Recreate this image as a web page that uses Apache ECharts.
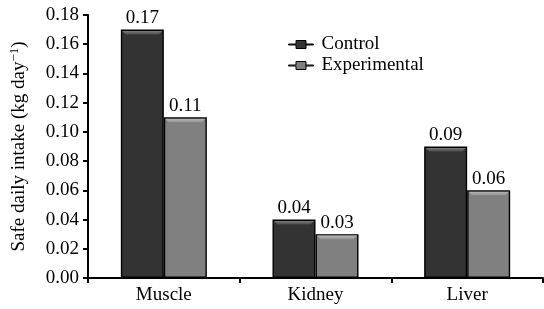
<!DOCTYPE html>
<html><head><meta charset="utf-8">
<script src="https://cdn.jsdelivr.net/npm/echarts@6/dist/echarts.min.js"></script>
<style>html,body{margin:0;padding:0;background:#fff}#c{width:544px;height:309px}</style>
</head><body><div id="c"></div>
<script>
const categories = ['Muscle', 'Kidney', 'Liver'];
const controlValues = [0.17, 0.04, 0.09];
const experimentalValues = [0.11, 0.03, 0.06];
const yTicks = [0, 0.02, 0.04, 0.06, 0.08, 0.10, 0.12, 0.14, 0.16, 0.18];

const FONT = '"Liberation Serif", "Times New Roman", serif';
const BAR_W = 43;
const chart = echarts.init(document.getElementById('c'), null, {renderer: 'canvas'});
const legendIcon = 'path://M0,3.5h7.5v-3.5h10v8h-10v-3.5h-7.5z M17.5,3.5h7.5v1h-7.5z';
function barSeries(name, data, color) {
  return {
    name: name, type: 'bar', data: data,
    barWidth: BAR_W, barGap: '0%',
    itemStyle: {color: color, borderColor: '#000', borderWidth: 1.4},
    label: {show: true, position: 'top', distance: 2, color: '#000', fontFamily: FONT, fontSize: 19,
      formatter: p => p.value.toFixed(2)}
  };
}
function bevelSeries(data, side, light) {
  return {
    type: 'custom', name: 'bevel' + side, z: 5, silent: true,
    data: data.map((v, i) => [i, v]),
    encode: {x: 0, y: 1},
    renderItem: function (params, api) {
      const p = api.coord([api.value(0), api.value(1)]);
      const l = side < 0 ? p[0] - BAR_W : p[0];
      const r = l + BAR_W;
      const y = p[1];
      return {
        type: 'polygon',
        shape: {points: [[l + 1.4, y + 1.4], [r - 1.4, y + 1.4], [r - 5, y + 5], [l + 5, y + 5]]},
        style: {fill: new echarts.graphic.LinearGradient(0, 0, 0, 1, [
          {offset: 0, color: light[0]}, {offset: 1, color: light[1]}])}
      };
    }
  };
}
chart.setOption({
  animation: false,
  textStyle: {fontFamily: FONT},
  grid: {left: 88, right: 1, top: 15, bottom: 31, containLabel: false, outerBoundsMode: 'none'},
  legend: {
    orient: 'vertical', left: 288, top: 35, itemGap: 2, padding: 0,
    itemWidth: 25, itemHeight: 8,
    textStyle: {fontFamily: FONT, fontSize: 19, color: '#000', padding: [0, 0, 0, 3]},
    data: [{name: 'Control', icon: legendIcon, itemStyle: {borderColor: '#000', borderWidth: 1}},
           {name: 'Experimental', icon: legendIcon, itemStyle: {borderColor: '#000', borderWidth: 1}}]
  },
  xAxis: {
    type: 'category', data: categories,
    axisLine: {lineStyle: {color: '#000', width: 2}},
    axisTick: {show: true, length: 5, lineStyle: {color: '#000', width: 2}},
    axisLabel: {color: '#000', fontFamily: FONT, fontSize: 19, margin: 8}
  },
  yAxis: {
    type: 'value', min: 0, max: 0.18, interval: 0.02,
    name: 'Safe daily intake (kg day{sup|−1})',
    nameLocation: 'middle', nameGap: 57, nameRotate: 90,
    nameTextStyle: {color: '#000', fontFamily: FONT, fontSize: 19,
      rich: {sup: {fontFamily: FONT, fontSize: 13, verticalAlign: 'top', padding: [0, 0, 10, 0], color: '#000'}}},
    axisLine: {show: true, lineStyle: {color: '#000', width: 2}},
    axisTick: {show: true, length: 5, lineStyle: {color: '#000', width: 2}},
    splitLine: {show: false},
    axisLabel: {color: '#000', fontFamily: FONT, fontSize: 19, margin: 9,
      formatter: v => yTicks.includes(Math.round(v * 100) / 100) ? v.toFixed(2) : ''}
  },
  series: [
    barSeries('Control', controlValues, '#333333'),
    barSeries('Experimental', experimentalValues, '#808080'),
    bevelSeries(controlValues, -1, ['#7a7a7a', '#4a4a4a']),
    bevelSeries(experimentalValues, 1, ['#b4b4b4', '#949494'])
  ]
});
</script></body></html>
